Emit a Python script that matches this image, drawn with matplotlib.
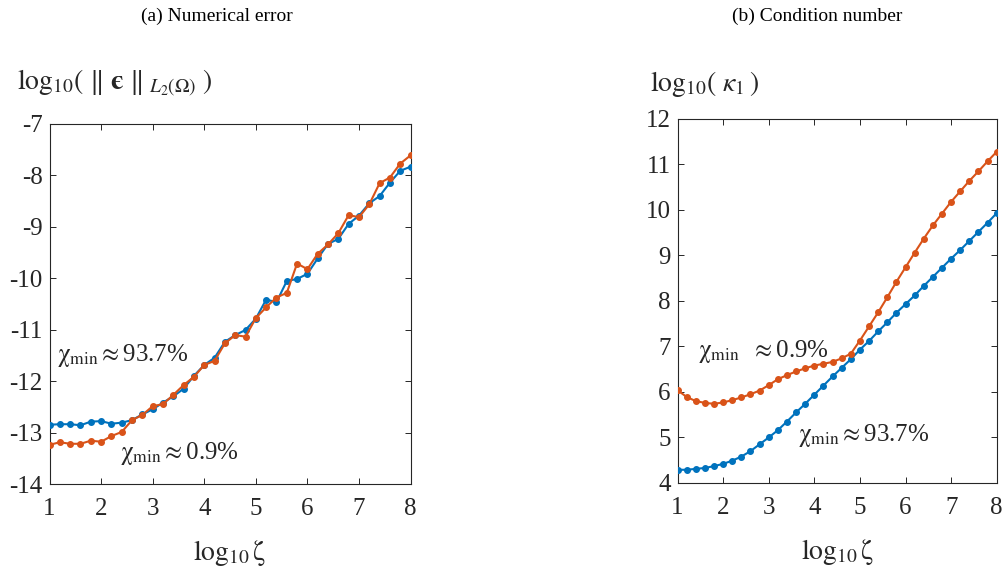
import numpy as np
import matplotlib
matplotlib.use("Agg")
import matplotlib.pyplot as plt

plt.rcParams['font.family'] = ['Liberation Serif', 'DejaVu Serif']
plt.rcParams['mathtext.fontset'] = 'stix'
plt.rcParams['axes.unicode_minus'] = False

# log10(zeta) sample points, step 0.2
log_zeta = np.round(np.arange(1.0, 8.01, 0.2), 1)

# (a) numerical error, log10 of the L2 norm
err_high = [-12.84, -12.83, -12.83, -12.85, -12.78, -12.77, -12.82, -12.80, -12.75, -12.64,
            -12.54, -12.41, -12.29, -12.14, -11.89, -11.68, -11.54, -11.23, -11.10, -11.00,
            -10.78, -10.41, -10.46, -10.05, -10.01, -9.91, -9.61, -9.33, -9.23, -8.94,
            -8.78, -8.54, -8.40, -8.14, -7.91, -7.83]
err_low = [-13.23, -13.18, -13.21, -13.21, -13.15, -13.17, -13.06, -12.98, -12.75, -12.65,
           -12.48, -12.44, -12.26, -12.07, -11.91, -11.68, -11.60, -11.26, -11.10, -11.13,
           -10.77, -10.56, -10.37, -10.28, -9.71, -9.82, -9.52, -9.34, -9.12, -8.77,
           -8.81, -8.56, -8.15, -8.04, -7.77, -7.61]

# (b) condition number, log10(kappa_1)
cond_high = [4.29, 4.29, 4.31, 4.33, 4.37, 4.42, 4.49, 4.58, 4.70, 4.85,
             5.00, 5.16, 5.35, 5.55, 5.74, 5.94, 6.14, 6.34, 6.53, 6.72,
             6.93, 7.12, 7.33, 7.53, 7.74, 7.93, 8.12, 8.33, 8.53, 8.73,
             8.93, 9.12, 9.32, 9.52, 9.72, 9.93]
cond_low = [6.04, 5.89, 5.80, 5.76, 5.74, 5.77, 5.82, 5.88, 5.95, 6.03,
            6.15, 6.28, 6.37, 6.45, 6.52, 6.58, 6.62, 6.66, 6.74, 6.84,
            7.13, 7.44, 7.75, 8.08, 8.42, 8.74, 9.06, 9.37, 9.66, 9.92,
            10.18, 10.41, 10.64, 10.85, 11.07, 11.28]

blue = '#0072BD'
orange = '#D95319'
axcol = '#262626'

fig = plt.figure(figsize=(10.07, 5.76), dpi=100)
ax1 = fig.add_axes([0.0492, 0.1589, 0.3585, 0.6259])
ax2 = fig.add_axes([0.6728, 0.1615, 0.3170, 0.6320])


def style(ax, yticks):
    ax.set_xlim(1, 8)
    ax.set_ylim(yticks[0], yticks[-1])
    ax.set_xticks(range(1, 9))
    ax.set_yticks(yticks)
    ax.tick_params(direction='in', top=True, right=True, length=4, width=0.7,
                   colors=axcol, labelsize=18)
    ax.tick_params(axis='x', pad=10)
    ax.tick_params(axis='y', pad=5)
    for s in ax.spines.values():
        s.set_color(axcol)
        s.set_linewidth(0.8)
    ax.set_xlabel(r'$\mathrm{log}_{10}\,\mathrm{\zeta}$', fontsize=20, color=axcol, labelpad=13)


for ax, hi, lo in [(ax1, err_high, err_low), (ax2, cond_high, cond_low)]:
    ax.plot(log_zeta, hi, '-o', color=blue, lw=1.5, ms=4, zorder=3)
    ax.plot(log_zeta, lo, '-o', color=orange, lw=1.5, ms=4, zorder=3)

style(ax1, list(range(-14, -6)))
style(ax2, list(range(4, 13)))

chi = r'$\mathrm{\chi}_{\mathrm{min}}'
lab_kw = dict(fontsize=18, color=axcol, va='center')
ax1.text(1.14, -11.5, chi + r'\approx$93.7%', **lab_kw)
ax1.text(2.37, -13.4, chi + r'\approx$0.9%', **lab_kw)
ax2.text(1.45, 6.9, chi + r'\ \ \approx$0.9%', **lab_kw)
ax2.text(3.65, 5.05, chi + r'\approx$93.7%', **lab_kw)

# axis titles written horizontally above each panel
fig.text(0.017, 0.855,
         '$\\mathrm{log}_{10}(\\ \\Vert\\ \\mathbf{\u03f5}\\ \\Vert_{\\ \\mathit{L_2(\\Omega)}}\\ )$',
         fontsize=20, color=axcol, va='center')
fig.text(0.645, 0.855, r'$\mathrm{log}_{10}(\ \kappa_{\mathit{1}}\,)$',
         fontsize=20, color=axcol, va='center')

fig.text(0.215, 0.972, '(a) Numerical error', fontsize=14, ha='center', va='center')
fig.text(0.812, 0.972, '(b) Condition number', fontsize=14, ha='center', va='center')

fig.savefig('out.png', dpi=100)
